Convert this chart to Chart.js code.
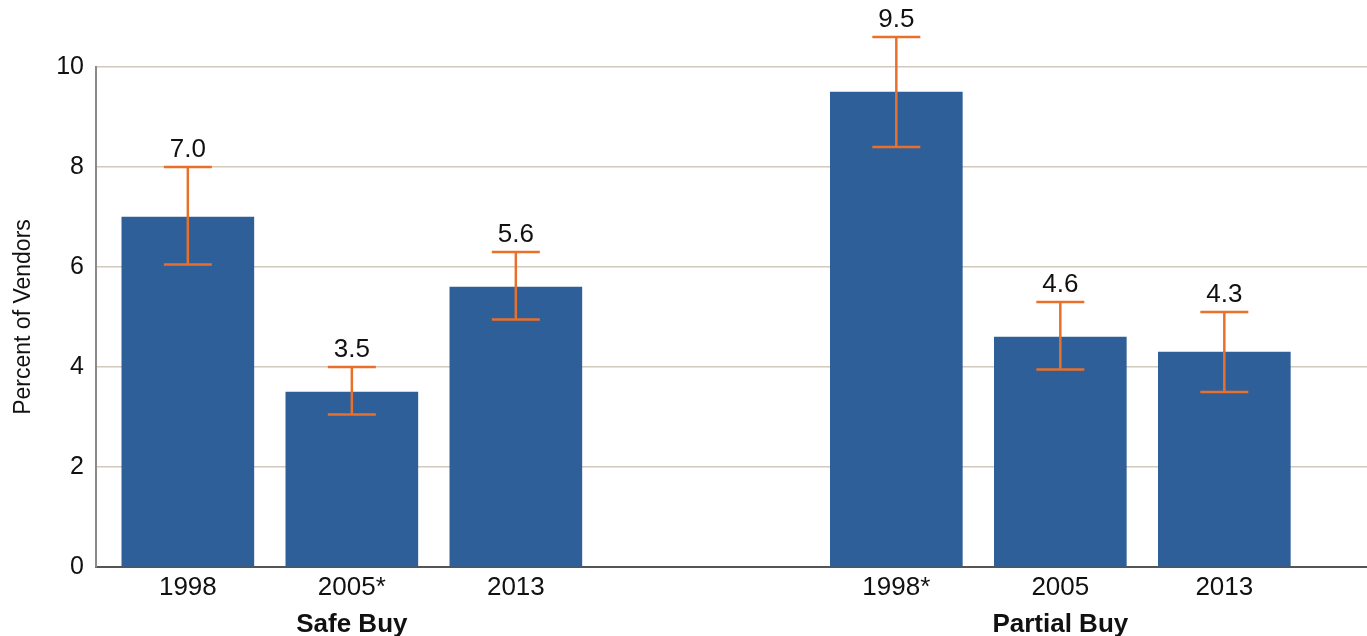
<!DOCTYPE html>
<html>
<head>
<meta charset="utf-8">
<script src="https://cdn.jsdelivr.net/npm/chart.js@4.4.1/dist/chart.umd.min.js"></script>
<style>
  html, body { margin: 0; padding: 0; background: #ffffff; }
  #wrap { width: 1367px; height: 636px; position: relative; }
</style>
</head>
<body>
<div id="wrap"><canvas id="vendorChart"></canvas></div>
<script>
// Vendor purchase rates by year, two buy types
const yearLabels = ["1998", "2005*", "2013", "1998*", "2005", "2013"];
const groupNames = ["Safe Buy", "Partial Buy"];
const groupOf = [0, 0, 0, 1, 1, 1];
const percentValues = [7.0, 3.5, 5.6, 9.5, 4.6, 4.3];
const ciLow = [6.05, 3.05, 4.95, 8.4, 3.95, 3.5];
const ciHigh = [8.0, 4.0, 6.3, 10.6, 5.3, 5.1];
const yTicks = [0, 2, 4, 6, 8, 10];

// extra space between the two groups, in bar slots
const GROUP_GAP = 1.32;
const slotPos = yearLabels.map((_, i) => i + groupOf[i] * GROUP_GAP);

const BAR_COLOR = "#2f5f98";
const ERR_COLOR = "#e8702a";
const FONT = "'Liberation Sans', Arial, sans-serif";

const errorBars = {
  id: "errorBars",
  afterDatasetsDraw(chart) {
    const { ctx, scales: { y } } = chart;
    const meta = chart.getDatasetMeta(0);
    ctx.save();
    ctx.strokeStyle = ERR_COLOR;
    ctx.lineWidth = 2.5;
    meta.data.forEach((bar, i) => {
      const x = bar.x;
      const yHi = y.getPixelForValue(ciHigh[i]);
      const yLo = y.getPixelForValue(ciLow[i]);
      const half = 24;
      ctx.beginPath();
      ctx.moveTo(x, yHi); ctx.lineTo(x, yLo);
      ctx.moveTo(x - half, yHi); ctx.lineTo(x + half, yHi);
      ctx.moveTo(x - half, yLo); ctx.lineTo(x + half, yLo);
      ctx.stroke();
      // value label above the upper cap
      ctx.fillStyle = "#111111";
      ctx.font = "26px " + FONT;
      ctx.textAlign = "center";
      ctx.textBaseline = "bottom";
      ctx.fillText(percentValues[i].toFixed(1), x, yHi - 4);
    });
    ctx.restore();
  }
};

const groupTitles = {
  id: "groupTitles",
  afterDraw(chart) {
    const { ctx, scales: { x }, chartArea } = chart;
    ctx.save();
    ctx.fillStyle = "#111111";
    ctx.font = "bold 26px " + FONT;
    ctx.textAlign = "center";
    ctx.textBaseline = "middle";
    groupNames.forEach((name, g) => {
      const idx = groupOf.map((v, i) => v === g ? i : -1).filter(i => i >= 0);
      const mid = (slotPos[idx[0]] + slotPos[idx[idx.length - 1]]) / 2;
      ctx.fillText(name, x.getPixelForValue(mid), chartArea.bottom + 58);
    });
    ctx.restore();
  }
};

new Chart(document.getElementById("vendorChart"), {
  type: "bar",
  data: {
    datasets: [{
      data: slotPos.map((p, i) => ({ x: p, y: percentValues[i] })),
      backgroundColor: BAR_COLOR,
      borderWidth: 0,
      barThickness: 132,
    }],
  },
  options: {
    responsive: true,
    maintainAspectRatio: false,
    animation: false,
    layout: { padding: { top: 67, right: 0, left: 0, bottom: 0 } },
    plugins: {
      legend: { display: false },
      tooltip: { enabled: false },
    },
    scales: {
      x: {
        type: "linear",
        offset: false,
        min: -0.56,
        max: 7.19,
        afterBuildTicks(scale) {
          scale.ticks = slotPos.map(v => ({ value: v }));
        },
        afterFit(scale) { scale.height = 69; },
        ticks: {
          autoSkip: false,
          maxRotation: 0,
          padding: -3,
          color: "#111111",
          font: { family: FONT, size: 26 },
          callback: (v, i) => yearLabels[i],
        },
        grid: { display: false },
        border: { display: true, color: "#555555", width: 2 },
      },
      y: {
        min: 0,
        max: 10,
        afterBuildTicks(scale) {
          scale.ticks = yTicks.map(v => ({ value: v }));
        },
        afterFit(scale) { scale.width = 96; },
        ticks: {
          padding: 12,
          color: "#111111",
          font: { family: FONT, size: 25 },
        },
        title: {
          display: true,
          text: "Percent of Vendors",
          color: "#111111",
          padding: { top: 10, bottom: 0 },
          font: { family: FONT, size: 23 },
        },
        grid: {
          drawTicks: false,
          color: ctx => ctx.tick.value === 0 ? "rgba(0,0,0,0)" : "#d2cabc",
          lineWidth: 1.5,
        },
        border: { display: true, color: "#8a8a8a", width: 2 },
      },
    },
  },
  plugins: [errorBars, groupTitles],
});
</script>
</body>
</html>
